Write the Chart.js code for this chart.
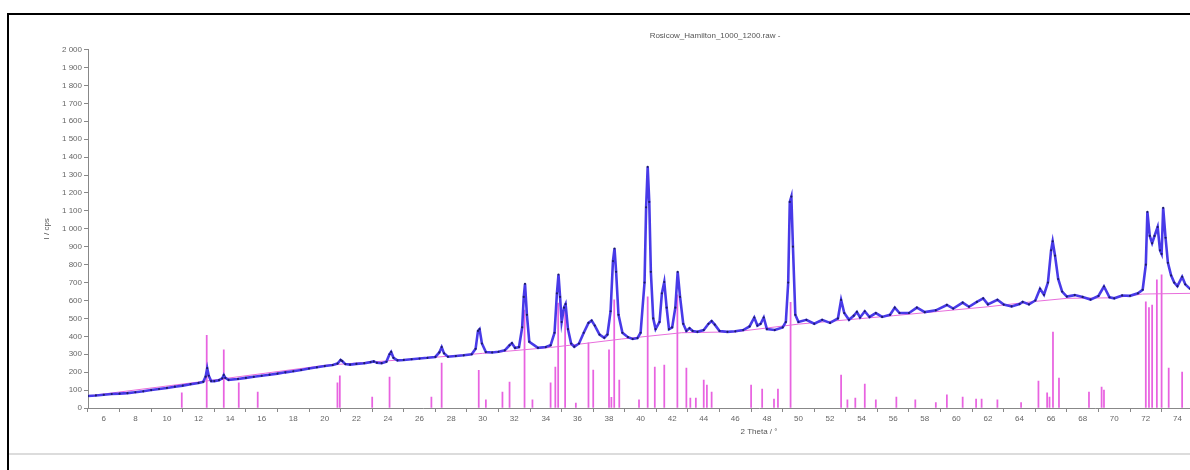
<!DOCTYPE html>
<html><head><meta charset="utf-8">
<script src="https://cdn.jsdelivr.net/npm/chart.js@4.4.1/dist/chart.umd.min.js"></script>
<style>
html,body{margin:0;padding:0;background:#fff;}
#wrap{position:relative;width:1190px;height:470px;overflow:hidden;}
#frame{position:absolute;left:7px;top:13px;width:1200px;height:470px;border-left:2px solid #000;border-top:2px solid #000;}
#sep{position:absolute;left:9px;top:453px;width:1181px;height:2px;background:#dcdcdc;}
canvas{position:absolute;left:0;top:0;}
</style></head><body>
<div id="wrap"><div id="frame"></div><div id="sep"></div><canvas id="c" width="1478" height="470"></canvas></div>
<script>
const chartTitle = 'Rosicow_Hamilton_1000_1200.raw -';
const xTitle = '2 Theta / °';
const yTitle = 'I / cps';
const xTickValues = [6,8,10,12,14,16,18,20,22,24,26,28,30,32,34,36,38,40,42,44,46,48,50,52,54,56,58,60,62,64,66,68,70,72,74,76,78,80,82,84,86,88,90];

const scanTwoTheta = [
5.0,5.5,6.0,6.5,7.0,7.5,8.0,8.5,9.0,9.5,
10.0,10.5,11.0,11.5,12.0,12.3,12.45,12.55,12.65,12.8,
13.0,13.3,13.5,13.6,13.7,13.9,14.5,15.0,15.5,16.0,
16.5,17.0,17.5,18.0,18.5,19.0,19.5,20.0,20.5,20.8,
21.0,21.1,21.3,21.6,22.0,22.5,22.9,23.1,23.3,23.6,
23.9,24.1,24.2,24.35,24.6,25.0,25.5,26.0,26.5,27.0,
27.25,27.4,27.55,27.8,28.3,28.8,29.3,29.55,29.7,29.8,
29.95,30.2,30.6,31.0,31.4,31.7,31.85,32.05,32.3,32.5,
32.6,32.68,32.8,32.95,33.5,34.0,34.3,34.55,34.7,34.8,
34.9,35.0,35.15,35.25,35.4,35.6,35.8,36.1,36.4,36.7,
36.9,37.1,37.4,37.7,37.9,38.1,38.25,38.35,38.45,38.6,
38.85,39.2,39.5,39.8,40.0,40.25,40.35,40.45,40.55,40.65,
40.8,40.95,41.2,41.35,41.5,41.65,41.8,42.0,42.2,42.35,
42.5,42.7,42.9,43.1,43.3,43.6,44.0,44.3,44.5,44.7,
45.0,45.5,46.0,46.5,46.9,47.2,47.4,47.6,47.8,48.0,
48.5,49.0,49.2,49.35,49.45,49.55,49.65,49.8,50.0,50.5,
51.0,51.5,52.0,52.5,52.7,52.9,53.2,53.5,53.7,53.9,
54.2,54.5,54.9,55.3,55.8,56.1,56.4,57.0,57.5,58.0,
58.7,59.4,59.8,60.4,60.8,61.3,61.7,62.0,62.6,63.0,
63.5,64.0,64.2,64.6,65.0,65.3,65.55,65.8,66.0,66.1,
66.25,66.45,66.7,67.0,67.5,68.0,68.5,69.0,69.35,69.7,
70.0,70.5,71.0,71.5,71.8,72.0,72.1,72.25,72.4,72.55,
72.75,72.9,73.0,73.1,73.25,73.4,73.6,73.8,74.0,74.3,
74.5,74.8];
const scanCounts = [
67,70,74,78,80,83,88,93,100,106,
112,119,125,133,140,146,175,222,180,150,
150,155,165,184,168,157,162,168,174,180,
186,192,199,205,212,220,227,234,240,248,
268,262,245,242,246,250,256,260,252,250,
258,300,313,280,266,268,272,276,280,285,
310,340,305,286,290,294,300,330,430,440,
360,312,310,314,322,350,362,335,340,450,
620,693,520,370,336,340,350,420,640,745,
620,480,560,580,440,360,342,360,420,475,
488,460,410,392,410,540,820,890,760,520,
420,395,385,390,420,700,1120,1346,1150,760,
500,440,480,640,703,560,440,450,560,760,
620,470,430,445,430,425,435,470,485,465,
430,425,428,435,455,505,460,470,505,440,
435,450,480,700,1150,1180,900,520,480,492,
470,492,475,500,603,530,492,515,536,505,
540,508,530,508,520,560,530,530,560,535,
545,575,555,588,565,592,612,578,604,577,
567,580,592,578,600,665,632,700,880,930,
850,720,650,622,630,620,605,625,678,618,
612,628,626,640,660,800,1095,960,920,960,
1010,880,860,1117,950,810,740,700,680,732,
690,665];

const stickTwoTheta = [10.94,12.52,13.6,14.55,15.75,20.8,20.95,23.0,24.1,26.75,27.4,29.75,30.2,31.25,31.7,32.65,33.15,34.3,34.6,34.78,35.22,35.9,36.7,37.0,38.0,38.15,38.33,38.65,39.9,40.45,40.9,41.5,42.33,42.9,43.15,43.5,44.0,44.2,44.5,47.0,47.7,48.45,48.7,49.5,52.7,53.1,53.6,54.2,54.9,56.2,57.4,58.7,59.4,60.4,61.25,61.6,62.6,64.1,65.2,65.75,65.9,66.12,66.5,68.4,69.2,69.35,72.0,72.2,72.4,72.7,73.0,73.45,74.3];
const stickIntensity = [84,405,324,140,89,140,180,61,173,61,250,210,45,89,145,547,45,140,229,586,564,28,363,212,324,60,603,156,45,620,229,240,631,223,56,56,156,128,89,128,106,50,106,590,184,45,56,134,45,61,45,30,73,61,50,50,45,30,150,84,61,424,167,89,117,100,592,560,575,715,743,223,201];

const baseTwoTheta = [5,12,20,26,30,34.3,36.0,38.8,42.6,46,50,56,62,65,67,70,71.8,75];
const baseCounts = [67,145,238,276,305,338,355,385,420,425,468,515,565,595,612,615,636,640];

const pts = (xs, ys) => xs.map((x, i) => ({x: x, y: ys[i]}));
const fmtY = v => v >= 1000 ? Math.floor(v / 1000) + ' ' + String(v % 1000).padStart(3, '0') : String(v);
const FONT = "'Liberation Sans', Arial, sans-serif";

new Chart(document.getElementById('c'), {
  type: 'bar',
  data: {
    datasets: [
      {
        type: 'line', label: 'scan', data: pts(scanTwoTheta, scanCounts), order: 0,
        borderColor: 'rgb(72,58,232)', borderWidth: 2.6, tension: 0,
        pointRadius: 1.1, pointBackgroundColor: '#1c1d6a', pointBorderWidth: 0
      },
      {
        type: 'line', label: 'background', data: pts(baseTwoTheta, baseCounts), order: 1,
        borderColor: 'rgb(232,110,220)', borderWidth: 1, pointRadius: 0, tension: 0
      },
      {
        type: 'bar', label: 'pattern', data: pts(stickTwoTheta, stickIntensity), order: 2,
        backgroundColor: 'rgba(226,60,216,0.8)', barThickness: 1.1, borderWidth: 0
      }
    ]
  },
  options: {
    responsive: false, animation: false, devicePixelRatio: 1,
    layout: {padding: {top: 0, right: 48, bottom: 0, left: 0}},
    plugins: {
      legend: {display: false}, tooltip: {enabled: false},
      title: {display: true, text: chartTitle, color: '#555', font: {family: FONT, size: 8, weight: 'normal'}, padding: {top: 31, bottom: 9}}
    },
    scales: {
      x: {
        type: 'linear', min: 5, max: 90, offset: false,
        afterBuildTicks: s => { s.ticks = xTickValues.map(v => ({value: v})); },
        afterFit: s => { s.height = 62; },
        grid: {drawOnChartArea: false, tickLength: 4, color: '#888'},
        border: {display: true, color: '#888'},
        ticks: {color: '#666', font: {family: FONT, size: 8}, padding: 2, maxRotation: 0, autoSkip: false},
        title: {display: true, text: xTitle, color: '#555', font: {family: FONT, size: 8}, padding: {top: 0, bottom: 33}}
      },
      y: {
        min: 0, max: 2000,
        afterFit: s => { s.width = 88; },
        grid: {drawOnChartArea: false, tickLength: 4, color: '#888'},
        border: {display: true, color: '#888'},
        ticks: {stepSize: 100, color: '#666', font: {family: FONT, size: 8}, padding: 2, callback: v => fmtY(v), autoSkip: false},
        title: {display: true, text: yTitle, color: '#555', font: {family: FONT, size: 8}, padding: {top: 42, bottom: 0}}
      }
    }
  }
});
</script>
</body></html>
